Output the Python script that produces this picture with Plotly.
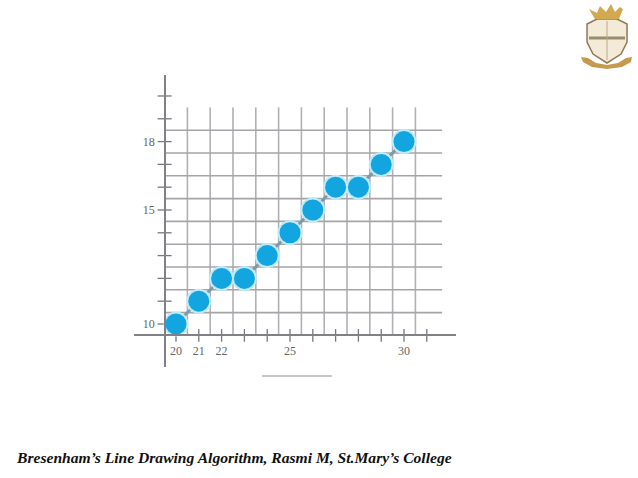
import plotly.graph_objects as go

# Data
point_x = [20, 21, 22, 23, 24, 25, 26, 27, 28, 29, 30]
point_y = [10, 11, 12, 12, 13, 14, 15, 16, 16, 17, 18]
x_ticks = [20, 21, 22, 23, 24, 25, 26, 27, 28, 29, 30, 31]
y_ticks = [10, 11, 12, 13, 14, 15, 16, 17, 18, 19, 20]
x_tick_labels = ["20", "21", "22", "", "", "25", "", "", "", "", "30", ""]
y_tick_labels = ["10", "", "", "", "", "15", "", "", "18", "", ""]
grid_x = [20.5, 21.5, 22.5, 23.5, 24.5, 25.5, 26.5, 27.5, 28.5, 29.5, 30.5]
grid_y = [10.5, 11.5, 12.5, 13.5, 14.5, 15.5, 16.5, 17.5, 18.5]
caption = "<b><i>Bresenham’s Line Drawing Algorithm, Rasmi M, St.Mary’s College</i></b>"

W, H = 638, 478
AX, AY = 19.5, 9.5      # where the axes cross
GRID_TOP, GRID_RIGHT = 19.5, 31.67


def px(x):
    return x / W


def py(y):
    return 1 - y / H


def path(points, close=True):
    s = "M" + " L".join(f"{px(a):.4f},{py(b):.4f}" for a, b in points)
    return s + (" Z" if close else "")


fig = go.Figure()

# grid
gx, gy = [], []
for v in grid_x:
    gx += [v, v, None]
    gy += [AY, GRID_TOP, None]
fig.add_trace(go.Scatter(x=gx, y=gy, mode="lines", line=dict(color="#b0b0b5", width=1.6), hoverinfo="skip"))
gx, gy = [], []
for v in grid_y:
    gx += [AX, GRID_RIGHT, None]
    gy += [v, v, None]
fig.add_trace(go.Scatter(x=gx, y=gy, mode="lines", line=dict(color="#a4a4a9", width=1.6), hoverinfo="skip"))

# crossing tick marks
fig.add_trace(go.Scatter(x=x_ticks, y=[AY] * len(x_ticks), mode="markers",
                         marker=dict(symbol="line-ns-open", size=9, color="#77777c", line=dict(color="#77777c", width=1.3)), hoverinfo="skip"))
fig.add_trace(go.Scatter(x=[AX] * len(y_ticks), y=y_ticks, mode="markers",
                         marker=dict(symbol="line-ew-open", size=10, color="#77777c", line=dict(color="#77777c", width=1.3)), hoverinfo="skip"))

# line and halo / points
fig.add_trace(go.Scatter(x=point_x, y=point_y, mode="lines", line=dict(color="#7f9aa6", width=3), hoverinfo="skip"))
fig.add_trace(go.Scatter(x=point_x, y=point_y, mode="markers",
                         marker=dict(size=25, color="#bfeaf8"), hoverinfo="skip"))
fig.add_trace(go.Scatter(x=point_x, y=point_y, mode="markers",
                         marker=dict(size=21, color="#12a5e0")))

axis_common = dict(showgrid=False, zeroline=False, showline=True, linecolor="#808085", linewidth=1.6,
                   ticks="", tickmode="array", anchor="free",
                   tickfont=dict(family="Liberation Serif", size=12, color="#666666"))

fig.update_layout(
    width=W, height=H, margin=dict(l=0, r=0, t=0, b=0), autosize=False,
    paper_bgcolor="white", plot_bgcolor="rgba(0,0,0,0)", showlegend=False,
    xaxis=dict(axis_common, domain=[134 / W, 456 / W], range=[18.158, 32.28], tickvals=x_ticks, ticktext=x_tick_labels,
               position=py(335), side="bottom", ticklabelstandoff=5),
    yaxis=dict(axis_common, domain=[py(367), py(75)], range=[8.114, 20.92], tickvals=y_ticks, ticktext=y_tick_labels,
               position=px(165), side="left", ticklabelstandoff=7),
    annotations=[dict(text=caption, xref="paper", yref="paper", x=px(14), y=py(457), xanchor="left", yanchor="middle",
                      showarrow=False, font=dict(family="Liberation Serif", size=15.6, color="#111111"))],
    shapes=[
        # short stroke below the chart
        dict(type="line", xref="paper", yref="paper", x0=px(262), x1=px(332), y0=py(376), y1=py(376),
             line=dict(color="#b5b5b8", width=1.5)),
        # crest: ribbon
        dict(type="path", xref="paper", yref="paper",
             path=path([(581, 57), (588, 58), (596, 63), (607, 65), (618, 63), (626, 58), (632, 57),
                        (631, 62), (622, 67), (607, 69), (592, 67), (583, 62)]),
             fillcolor="#c69a4e", line=dict(width=0)),
        # crest: shield
        dict(type="path", xref="paper", yref="paper",
             path=path([(587, 24), (597, 19), (617, 19), (627, 24), (627, 42), (621, 54), (607, 63), (593, 54), (587, 42)]),
             fillcolor="#f3ead7", line=dict(color="#8f7a55", width=1.5)),
        dict(type="line", xref="paper", yref="paper", x0=px(589), x1=px(625), y0=py(38), y1=py(38),
             line=dict(color="#9a8c70", width=3)),
        dict(type="line", xref="paper", yref="paper", x0=px(607), x1=px(607), y0=py(21), y1=py(60),
             line=dict(color="#b9a988", width=1)),
        # crest: crown
        dict(type="path", xref="paper", yref="paper",
             path=path([(589, 9), (597, 13), (600, 6), (606, 12), (611, 4), (615, 12), (620, 7), (623, 9),
                        (619, 19), (595, 19)]),
             fillcolor="#d1a94f", line=dict(width=0)),
    ],
)
fig.write_html("out.html", config={"displayModeBar": False},
               post_script="document.body.style.margin='0';document.documentElement.style.overflow='hidden';")
